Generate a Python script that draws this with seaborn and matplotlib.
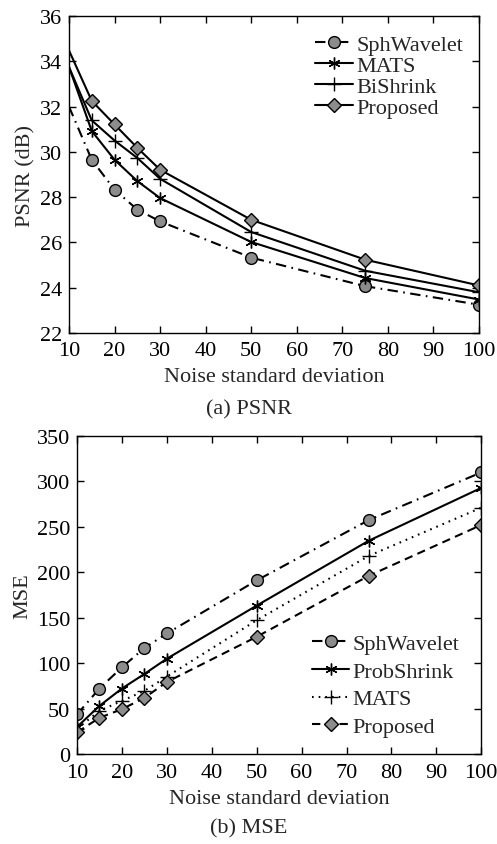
import numpy as np
import pandas as pd
import matplotlib
matplotlib.use("Agg")
import matplotlib.pyplot as plt
import seaborn as sns

# ---------------- data ----------------
sigma = [10, 15, 20, 25, 30, 50, 75, 100]

psnr_sph = [32.0, 29.65, 28.33, 27.45, 26.93, 25.33, 24.07, 23.25]
psnr_mats = [33.75, 30.92, 29.65, 28.71, 27.96, 26.02, 24.43, 23.48]
psnr_bishrink = [33.75, 31.39, 30.5, 29.73, 28.81, 26.46, 24.75, 23.8]
psnr_proposed = [34.48, 32.25, 31.21, 30.18, 29.21, 27.0, 25.24, 24.1]

mse_sph = [43.8, 72.3, 95.6, 116.8, 132.9, 191.2, 257.7, 310.0]
mse_probshrink = [30.0, 53.2, 72.3, 88.3, 105.1, 163.5, 235.0, 293.0]
mse_mats = [28.0, 47.8, 58.7, 69.7, 85.4, 147.4, 218.3, 271.2]
mse_proposed = [24.1, 40.1, 49.6, 62.0, 79.5, 129.2, 196.4, 252.2]

xticks = [10, 20, 30, 40, 50, 60, 70, 80, 90, 100]
psnr_yticks = [22, 24, 26, 28, 30, 32, 34, 36]
mse_yticks = [0, 50, 100, 150, 200, 250, 300, 350]

# ---------------- style ----------------
sns.set_style("ticks")
plt.rcParams["font.family"] = ["Liberation Serif", "DejaVu Serif"]
FS = 16
GRAY = "#8c8c8c"
LW = 1.5
DASHDOT = (0, (5, 2.6, 0.8, 2.6))
ASTER = (6, 2, 0)

fig = plt.figure(figsize=(4.97, 8.45), dpi=100)
ax1 = fig.add_axes([0.1388, 0.6047, 0.9638 - 0.1388, 0.9799 - 0.6047])
ax2 = fig.add_axes([0.1549, 0.1062, 0.9684 - 0.1549, 0.4828 - 0.1062])

def draw(ax, y, label, marker, ls, ms, mfc, markevery=None):
    df = pd.DataFrame({"x": sigma, "y": y})
    kw = dict(color="black", lw=LW, marker=marker, markersize=ms,
              markerfacecolor=mfc, markeredgecolor="black", markeredgewidth=1.0,
              linestyle=ls, label=label)
    if markevery is not None:
        kw["markevery"] = markevery
    sns.lineplot(data=df, x="x", y="y", ax=ax, **kw)

# top panel (no markers at sigma=10)
me = slice(1, None)
draw(ax1, psnr_sph, "SphWavelet", "o", DASHDOT, 8.5, GRAY, me)
draw(ax1, psnr_mats, "MATS", ASTER, "-", 8.5, "none", me)
draw(ax1, psnr_bishrink, "BiShrink", "+", "-", 9.5, "none", me)
draw(ax1, psnr_proposed, "Proposed", "D", "-", 7, GRAY, me)

# bottom panel
draw(ax2, mse_sph, "SphWavelet", "o", DASHDOT, 8.5, GRAY)
draw(ax2, mse_probshrink, "ProbShrink", ASTER, "-", 8.5, "none")
draw(ax2, mse_mats, "MATS", "+", (0, (0.8, 2.4)), 9.5, "none")
draw(ax2, mse_proposed, "Proposed", "D", (0, (4, 2.6)), 7, GRAY)

for ax, yt, ylab in [(ax1, psnr_yticks, "PSNR (dB)"), (ax2, mse_yticks, "MSE")]:
    ax.set_xlim(10, 100)
    ax.set_ylim(yt[0], yt[-1])
    ax.set_xticks(xticks)
    ax.set_yticks(yt)
    ax.tick_params(direction="in", top=True, right=True, labelsize=FS,
                   length=5, width=1, colors="black")
    ax.tick_params(axis="x", pad=6)
    ax.tick_params(axis="y", pad=5)
    for s in ax.spines.values():
        s.set_visible(True)
        s.set_linewidth(1.0)
        s.set_color("black")
    ax.set_xlabel("Noise standard deviation", fontsize=FS, labelpad=5)
    ax.set_ylabel(ylab, fontsize=FS, labelpad=3)

ax1.legend(loc="upper right", frameon=False, fontsize=FS, handlelength=1.7,
           handletextpad=0.15, labelspacing=0.02, borderaxespad=0.3,
           bbox_to_anchor=(1.0, 0.99))
ax2.legend(loc="lower right", frameon=False, fontsize=FS, handlelength=1.7,
           handletextpad=0.15, labelspacing=0.32, borderaxespad=0.3,
           bbox_to_anchor=(0.985, 0.005))

fig.text(0.5, 1 - 410 / 845, "(a) PSNR", ha="center", va="center", fontsize=FS)
fig.text(0.5, 1 - 829 / 845, "(b) MSE", ha="center", va="center", fontsize=FS)

fig.savefig("out.png", dpi=100)
